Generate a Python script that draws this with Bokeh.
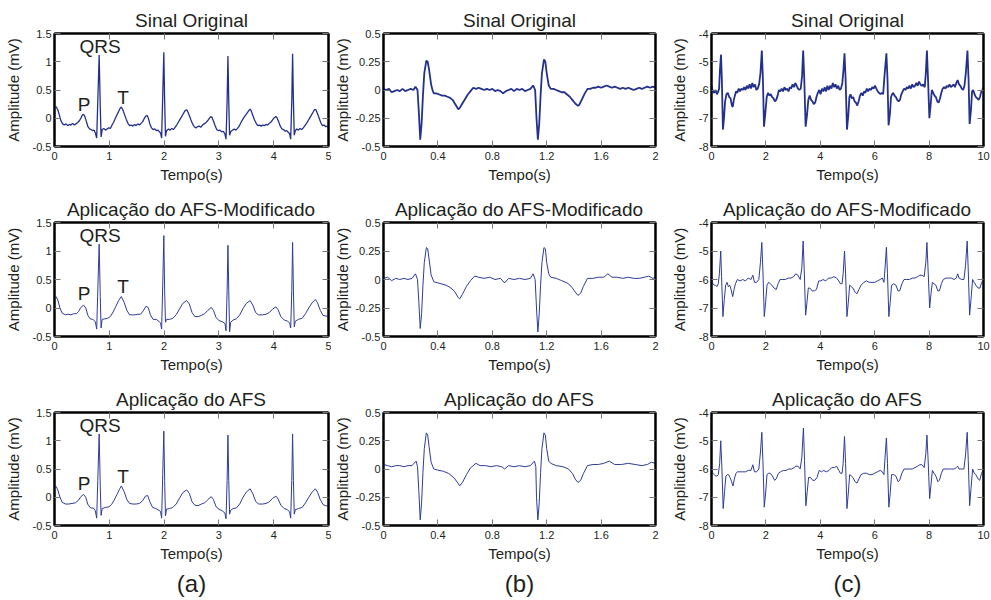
from bokeh.plotting import figure
from bokeh.layouts import column, row
from bokeh.models import LinearAxis, FixedTicker, Title, Range1d
from bokeh.embed import file_html
from bokeh.resources import INLINE
from bokeh.core.properties import value

# ---------------- data (time in s, amplitude in mV) ----------------
# column (a): 0..5 s
sinal_a_original = [
    (0.00, 0.19), (0.03, 0.20), (0.06, 0.15), (0.09, 0.05), (0.12, -0.05), (0.15, -0.10),
    (0.18, -0.12), (0.21, -0.10), (0.24, -0.13), (0.27, -0.11), (0.30, -0.12), (0.33, -0.09),
    (0.36, -0.12), (0.39, -0.10), (0.42, -0.08), (0.45, -0.05), (0.48, 0.00), (0.51, 0.06),
    (0.53, 0.07), (0.55, 0.04), (0.58, -0.05), (0.61, -0.15), (0.64, -0.19), (0.67, -0.20),
    (0.70, -0.22), (0.725, -0.21), (0.745, -0.26), (0.77, -0.35), (0.79, 0.30), (0.815, 1.12),
    (0.835, 0.20), (0.85, -0.33), (0.87, -0.20), (0.90, -0.18), (0.93, -0.21), (0.96, -0.19),
    (0.99, -0.17), (1.02, -0.18), (1.05, -0.12), (1.08, -0.07), (1.11, 0.00), (1.14, 0.06),
    (1.17, 0.12), (1.20, 0.18), (1.22, 0.20), (1.25, 0.14), (1.28, 0.06), (1.31, -0.02),
    (1.34, -0.09), (1.37, -0.13), (1.40, -0.12), (1.43, -0.14), (1.46, -0.11), (1.49, -0.13),
    (1.52, -0.10), (1.55, -0.12), (1.58, -0.09), (1.61, -0.06), (1.64, 0.00), (1.67, 0.04),
    (1.69, 0.05), (1.71, 0.01), (1.74, -0.10), (1.77, -0.17), (1.80, -0.20), (1.83, -0.19),
    (1.86, -0.22), (1.89, -0.21), (1.915, -0.24), (1.935, -0.26), (1.955, -0.35), (1.975, 0.40),
    (1.995, 1.17), (2.01, 0.30), (2.025, -0.32), (2.045, -0.22), (2.08, -0.19), (2.11, -0.21),
    (2.14, -0.18), (2.17, -0.20), (2.20, -0.16), (2.23, -0.12), (2.26, -0.07), (2.29, -0.02),
    (2.32, 0.03), (2.35, 0.08), (2.38, 0.13), (2.41, 0.15), (2.43, 0.12), (2.46, 0.05),
    (2.49, -0.03), (2.52, -0.10), (2.55, -0.15), (2.58, -0.17), (2.61, -0.15), (2.64, -0.14),
    (2.67, -0.16), (2.70, -0.12), (2.73, -0.10), (2.76, -0.08), (2.79, -0.05), (2.82, -0.01),
    (2.85, 0.03), (2.87, 0.02), (2.90, -0.05), (2.93, -0.13), (2.96, -0.20), (2.99, -0.22),
    (3.02, -0.21), (3.05, -0.24), (3.08, -0.23), (3.11, -0.28), (3.13, -0.37), (3.15, 0.30),
    (3.165, 1.10), (3.18, 0.30), (3.195, -0.30), (3.215, -0.24), (3.25, -0.21), (3.28, -0.19),
    (3.31, -0.21), (3.34, -0.18), (3.37, -0.14), (3.40, -0.08), (3.43, -0.03), (3.46, 0.02),
    (3.49, 0.06), (3.52, 0.10), (3.55, 0.14), (3.57, 0.16), (3.59, 0.13), (3.62, 0.05),
    (3.65, -0.03), (3.68, -0.09), (3.71, -0.13), (3.74, -0.12), (3.77, -0.14), (3.80, -0.12),
    (3.83, -0.13), (3.86, -0.11), (3.89, -0.12), (3.92, -0.09), (3.95, -0.07), (3.98, -0.03),
    (4.01, 0.01), (4.04, 0.03), (4.06, 0.01), (4.09, -0.06), (4.12, -0.14), (4.15, -0.19),
    (4.18, -0.20), (4.21, -0.23), (4.24, -0.22), (4.265, -0.25), (4.29, -0.27), (4.31, -0.37),
    (4.33, 0.30), (4.345, 1.14), (4.36, 0.30), (4.375, -0.30), (4.395, -0.22), (4.42, -0.19),
    (4.45, -0.21), (4.48, -0.18), (4.51, -0.20), (4.54, -0.17), (4.57, -0.13), (4.60, -0.09),
    (4.63, -0.04), (4.66, 0.01), (4.69, 0.06), (4.72, 0.11), (4.75, 0.16), (4.77, 0.15),
    (4.80, 0.08), (4.83, 0.00), (4.86, -0.08), (4.89, -0.13), (4.92, -0.12), (4.95, -0.15),
    (4.98, -0.14), (5.00, -0.17),
]
sinal_a_afs_mod = [
    (0.00, 0.18), (0.03, 0.20), (0.06, 0.14), (0.10, 0.00), (0.14, -0.09), (0.20, -0.12),
    (0.25, -0.11), (0.30, -0.12), (0.35, -0.10), (0.40, -0.10), (0.44, -0.06), (0.48, 0.01),
    (0.53, 0.05), (0.57, 0.00), (0.61, -0.13), (0.65, -0.19), (0.70, -0.20), (0.745, -0.24),
    (0.77, -0.37), (0.79, 0.30), (0.815, 1.12), (0.835, 0.20), (0.85, -0.35), (0.87, -0.20),
    (0.92, -0.19), (0.97, -0.18), (1.02, -0.15), (1.07, -0.07), (1.12, 0.03), (1.17, 0.13),
    (1.22, 0.20), (1.27, 0.10), (1.32, -0.04), (1.37, -0.12), (1.42, -0.12), (1.47, -0.12),
    (1.52, -0.11), (1.57, -0.11), (1.62, -0.05), (1.67, 0.03), (1.71, 0.01), (1.75, -0.12),
    (1.80, -0.20), (1.86, -0.20), (1.935, -0.26), (1.955, -0.37), (1.975, 0.40), (1.995, 1.27),
    (2.01, 0.30), (2.025, -0.25), (2.045, -0.20), (2.10, -0.20), (2.16, -0.18), (2.22, -0.12),
    (2.28, -0.02), (2.34, 0.08), (2.41, 0.13), (2.46, 0.07), (2.51, -0.08), (2.56, -0.15),
    (2.62, -0.15), (2.68, -0.13), (2.74, -0.10), (2.80, -0.04), (2.86, 0.01), (2.90, -0.04),
    (2.95, -0.17), (3.00, -0.22), (3.06, -0.24), (3.11, -0.27), (3.13, -0.40), (3.15, 0.30),
    (3.165, 1.10), (3.18, 0.30), (3.195, -0.42), (3.215, -0.25), (3.26, -0.21), (3.32, -0.19),
    (3.38, -0.12), (3.44, -0.01), (3.50, 0.08), (3.57, 0.13), (3.62, 0.05), (3.67, -0.08),
    (3.72, -0.12), (3.80, -0.12), (3.86, -0.11), (3.92, -0.08), (3.98, -0.02), (4.04, 0.02),
    (4.08, -0.03), (4.13, -0.15), (4.19, -0.21), (4.25, -0.23), (4.29, -0.26), (4.31, -0.35),
    (4.33, 0.30), (4.345, 1.15), (4.36, 0.30), (4.375, -0.33), (4.395, -0.23), (4.45, -0.20),
    (4.52, -0.18), (4.58, -0.10), (4.64, 0.00), (4.70, 0.09), (4.76, 0.15), (4.80, 0.09),
    (4.85, -0.04), (4.90, -0.13), (4.95, -0.14), (5.00, -0.15),
]
sinal_a_afs = [
    (0.00, 0.17), (0.03, 0.19), (0.06, 0.13), (0.10, 0.00), (0.14, -0.09), (0.20, -0.12),
    (0.26, -0.12), (0.32, -0.11), (0.38, -0.10), (0.44, -0.05), (0.48, 0.01), (0.53, 0.05),
    (0.57, 0.00), (0.61, -0.13), (0.66, -0.19), (0.71, -0.19), (0.745, -0.24), (0.77, -0.37),
    (0.79, 0.30), (0.815, 1.12), (0.835, 0.20), (0.85, -0.32), (0.87, -0.20), (0.93, -0.18),
    (0.99, -0.17), (1.04, -0.13), (1.09, -0.05), (1.14, 0.05), (1.18, 0.13), (1.22, 0.20),
    (1.27, 0.10), (1.32, -0.04), (1.37, -0.11), (1.43, -0.12), (1.49, -0.12), (1.55, -0.11),
    (1.61, -0.06), (1.66, 0.02), (1.70, 0.03), (1.74, -0.08), (1.79, -0.18), (1.85, -0.20),
    (1.935, -0.25), (1.955, -0.37), (1.975, 0.40), (1.995, 1.17), (2.01, 0.30), (2.025, -0.33),
    (2.045, -0.21), (2.10, -0.20), (2.16, -0.18), (2.22, -0.12), (2.28, -0.02), (2.34, 0.08),
    (2.41, 0.13), (2.46, 0.07), (2.51, -0.08), (2.56, -0.14), (2.62, -0.15), (2.68, -0.12),
    (2.74, -0.10), (2.80, -0.04), (2.86, 0.01), (2.90, -0.04), (2.95, -0.17), (3.00, -0.21),
    (3.06, -0.24), (3.11, -0.28), (3.13, -0.38), (3.15, 0.30), (3.165, 1.10), (3.18, 0.30),
    (3.195, -0.30), (3.215, -0.23), (3.26, -0.20), (3.32, -0.19), (3.38, -0.12), (3.44, 0.00),
    (3.50, 0.09), (3.57, 0.15), (3.62, 0.06), (3.67, -0.07), (3.72, -0.12), (3.80, -0.12),
    (3.86, -0.11), (3.92, -0.08), (3.98, -0.02), (4.04, 0.02), (4.08, -0.03), (4.13, -0.14),
    (4.19, -0.20), (4.25, -0.22), (4.29, -0.26), (4.31, -0.37), (4.33, 0.30), (4.345, 1.12),
    (4.36, 0.30), (4.375, -0.30), (4.395, -0.22), (4.45, -0.20), (4.52, -0.18), (4.58, -0.10),
    (4.64, 0.00), (4.70, 0.09), (4.76, 0.15), (4.80, 0.09), (4.85, -0.04), (4.90, -0.13),
    (4.95, -0.15), (5.00, -0.16),
]

# column (b): 0..2 s
sinal_b_original = [
    (0.00, 0.01), (0.02, 0.00), (0.04, 0.01), (0.06, -0.02), (0.08, -0.01), (0.10, 0.00),
    (0.12, -0.01), (0.14, 0.01), (0.16, -0.01), (0.18, 0.00), (0.20, 0.01), (0.22, 0.00),
    (0.235, 0.03), (0.25, 0.00), (0.26, -0.20), (0.27, -0.44), (0.28, -0.30), (0.29, -0.05),
    (0.30, 0.15), (0.315, 0.26), (0.325, 0.25), (0.335, 0.18), (0.35, 0.05), (0.36, 0.00),
    (0.37, -0.03), (0.39, -0.03), (0.41, -0.04), (0.43, -0.05), (0.45, -0.05), (0.47, -0.06),
    (0.49, -0.07), (0.51, -0.09), (0.53, -0.13), (0.55, -0.17), (0.56, -0.16), (0.58, -0.12),
    (0.60, -0.08), (0.62, -0.04), (0.64, -0.01), (0.66, 0.02), (0.68, 0.01), (0.70, 0.02),
    (0.72, 0.01), (0.74, 0.00), (0.76, 0.01), (0.78, 0.00), (0.80, 0.01), (0.82, -0.01),
    (0.84, 0.00), (0.86, -0.01), (0.88, -0.03), (0.90, -0.01), (0.92, 0.00), (0.94, 0.01),
    (0.96, -0.01), (0.98, 0.01), (1.00, 0.00), (1.02, 0.01), (1.04, -0.01), (1.06, 0.00),
    (1.08, 0.01), (1.10, 0.04), (1.115, 0.00), (1.125, -0.25), (1.135, -0.44), (1.145, -0.30),
    (1.155, -0.05), (1.165, 0.15), (1.18, 0.27), (1.19, 0.25), (1.20, 0.15), (1.215, 0.04),
    (1.23, 0.01), (1.25, 0.01), (1.27, 0.00), (1.29, -0.01), (1.31, -0.02), (1.33, -0.02),
    (1.35, -0.04), (1.37, -0.06), (1.39, -0.09), (1.41, -0.12), (1.43, -0.14), (1.44, -0.13),
    (1.46, -0.08), (1.48, -0.03), (1.50, 0.01), (1.52, 0.01), (1.54, 0.02), (1.56, 0.02),
    (1.58, 0.03), (1.60, 0.02), (1.62, 0.03), (1.64, 0.04), (1.66, 0.03), (1.68, 0.02),
    (1.70, 0.03), (1.72, 0.02), (1.74, 0.01), (1.76, 0.02), (1.78, 0.01), (1.80, 0.02),
    (1.82, 0.01), (1.84, 0.00), (1.86, 0.01), (1.88, 0.02), (1.90, 0.01), (1.92, 0.02),
    (1.94, 0.03), (1.96, 0.02), (1.98, 0.03), (2.00, 0.02),
]
sinal_b_afs_mod = [
    (0.00, 0.01), (0.03, 0.02), (0.06, -0.01), (0.09, 0.01), (0.12, 0.00), (0.15, 0.01),
    (0.18, 0.00), (0.21, 0.01), (0.235, 0.05), (0.25, 0.00), (0.26, -0.20), (0.27, -0.43),
    (0.28, -0.30), (0.29, -0.05), (0.30, 0.15), (0.315, 0.28), (0.325, 0.27), (0.335, 0.18),
    (0.35, 0.04), (0.37, -0.02), (0.40, -0.03), (0.43, -0.04), (0.46, -0.05), (0.49, -0.07),
    (0.52, -0.10), (0.55, -0.16), (0.56, -0.17), (0.58, -0.13), (0.61, -0.06), (0.64, -0.01),
    (0.67, 0.03), (0.70, 0.02), (0.74, 0.01), (0.78, 0.02), (0.82, 0.00), (0.86, 0.01),
    (0.89, -0.03), (0.92, 0.01), (0.96, 0.00), (1.00, 0.01), (1.04, 0.00), (1.08, 0.01),
    (1.10, 0.05), (1.115, 0.00), (1.125, -0.25), (1.135, -0.46), (1.145, -0.30), (1.155, -0.05),
    (1.165, 0.15), (1.18, 0.28), (1.19, 0.27), (1.20, 0.15), (1.215, 0.05), (1.23, 0.02),
    (1.27, 0.01), (1.31, -0.01), (1.35, -0.03), (1.38, -0.06), (1.41, -0.11), (1.43, -0.14),
    (1.45, -0.12), (1.47, -0.06), (1.50, 0.01), (1.54, 0.01), (1.58, 0.02), (1.62, 0.02),
    (1.65, 0.05), (1.68, 0.02), (1.72, 0.02), (1.76, 0.01), (1.80, 0.02), (1.84, 0.01),
    (1.88, 0.01), (1.92, 0.02), (1.95, 0.03), (1.98, 0.01), (2.00, 0.02),
]
sinal_b_afs = [
    (0.00, 0.04), (0.03, 0.03), (0.06, 0.02), (0.09, 0.03), (0.12, 0.03), (0.15, 0.02),
    (0.18, 0.03), (0.21, 0.03), (0.24, 0.07), (0.25, 0.02), (0.26, -0.20), (0.27, -0.45),
    (0.28, -0.30), (0.29, -0.03), (0.30, 0.18), (0.315, 0.32), (0.325, 0.30), (0.335, 0.20),
    (0.35, 0.06), (0.37, 0.00), (0.40, -0.01), (0.44, -0.02), (0.48, -0.04), (0.52, -0.08),
    (0.55, -0.13), (0.56, -0.15), (0.58, -0.12), (0.61, -0.05), (0.64, 0.01), (0.68, 0.05),
    (0.71, 0.03), (0.75, 0.03), (0.79, 0.02), (0.83, 0.03), (0.87, 0.02), (0.89, 0.00),
    (0.92, 0.03), (0.96, 0.02), (1.00, 0.03), (1.04, 0.02), (1.08, 0.03), (1.11, 0.07),
    (1.12, 0.02), (1.125, -0.25), (1.135, -0.45), (1.145, -0.30), (1.155, -0.03), (1.165, 0.18),
    (1.18, 0.32), (1.19, 0.30), (1.20, 0.18), (1.215, 0.07), (1.23, 0.05), (1.27, 0.03),
    (1.32, 0.02), (1.36, 0.00), (1.39, -0.04), (1.41, -0.09), (1.43, -0.12), (1.45, -0.10),
    (1.47, -0.04), (1.50, 0.03), (1.54, 0.04), (1.58, 0.04), (1.62, 0.05), (1.66, 0.07),
    (1.70, 0.04), (1.75, 0.04), (1.80, 0.05), (1.85, 0.04), (1.90, 0.03), (1.94, 0.04),
    (1.97, 0.06), (2.00, 0.05),
]

# column (c): 0..10 s
sinal_c_original = [
    (0.00, -5.85), (0.05, -6.05), (0.10, -6.10), (0.15, -6.00), (0.20, -6.15), (0.25, -6.05),
    (0.28, -5.95), (0.31, -5.30), (0.35, -4.75), (0.38, -5.60), (0.42, -7.40), (0.46, -7.00),
    (0.50, -6.40), (0.55, -6.15), (0.60, -6.10), (0.65, -6.25), (0.70, -6.30), (0.75, -6.55),
    (0.78, -6.60), (0.82, -6.35), (0.86, -6.20), (0.90, -6.05), (0.95, -6.10), (1.00, -5.95),
    (1.05, -6.05), (1.10, -5.95), (1.15, -6.00), (1.20, -5.90), (1.25, -6.00), (1.30, -5.85),
    (1.35, -5.95), (1.40, -5.80), (1.45, -5.95), (1.50, -5.75), (1.55, -5.90), (1.60, -5.80),
    (1.65, -6.00), (1.70, -5.95), (1.75, -5.80), (1.80, -5.40), (1.85, -4.60), (1.89, -5.60),
    (1.93, -7.30), (1.98, -6.80), (2.03, -6.25), (2.08, -6.10), (2.13, -6.20), (2.18, -6.15),
    (2.23, -6.25), (2.28, -6.30), (2.33, -6.40), (2.38, -6.35), (2.43, -6.20), (2.48, -6.00),
    (2.53, -6.05), (2.58, -5.95), (2.63, -6.05), (2.68, -5.90), (2.73, -6.00), (2.78, -5.95),
    (2.83, -6.05), (2.88, -5.90), (2.93, -5.95), (2.98, -5.80), (3.03, -5.90), (3.08, -5.75),
    (3.13, -5.85), (3.18, -5.95), (3.23, -6.00), (3.28, -5.95), (3.33, -5.50), (3.37, -4.60),
    (3.41, -5.60), (3.46, -7.30), (3.51, -6.90), (3.56, -6.35), (3.61, -6.20), (3.66, -6.35),
    (3.71, -6.40), (3.76, -6.50), (3.81, -6.45), (3.86, -6.25), (3.91, -6.10), (3.96, -6.00),
    (4.01, -6.15), (4.06, -5.95), (4.11, -6.05), (4.16, -5.90), (4.21, -6.05), (4.26, -5.85),
    (4.31, -6.00), (4.36, -5.85), (4.41, -5.95), (4.46, -5.75), (4.51, -5.90), (4.56, -5.80),
    (4.61, -5.95), (4.66, -5.85), (4.71, -6.00), (4.76, -5.95), (4.81, -5.75), (4.85, -5.30),
    (4.89, -4.70), (4.93, -5.60), (4.98, -7.40), (5.03, -6.90), (5.07, -6.25), (5.11, -6.15),
    (5.16, -6.30), (5.21, -6.25), (5.26, -6.40), (5.31, -6.45), (5.36, -6.55), (5.41, -6.40),
    (5.46, -6.20), (5.51, -6.10), (5.56, -6.20), (5.61, -6.05), (5.66, -6.10), (5.71, -5.95),
    (5.76, -6.05), (5.81, -5.95), (5.86, -6.00), (5.91, -5.90), (5.96, -5.95), (6.01, -5.85),
    (6.06, -5.95), (6.11, -6.05), (6.16, -6.10), (6.21, -6.15), (6.26, -6.10), (6.31, -6.15),
    (6.36, -5.50), (6.43, -4.70), (6.47, -5.60), (6.51, -7.25), (6.56, -6.85), (6.60, -6.25),
    (6.64, -6.15), (6.68, -6.10), (6.73, -6.20), (6.78, -6.25), (6.83, -6.35), (6.88, -6.40),
    (6.93, -6.35), (6.98, -6.15), (7.03, -6.05), (7.08, -5.95), (7.13, -6.00), (7.18, -5.90),
    (7.23, -5.95), (7.28, -5.85), (7.33, -5.95), (7.38, -5.80), (7.43, -5.90), (7.48, -5.85),
    (7.53, -5.75), (7.58, -5.85), (7.63, -5.70), (7.68, -5.80), (7.73, -5.85), (7.78, -5.80),
    (7.84, -5.90), (7.88, -5.40), (7.92, -4.60), (7.96, -5.60), (8.01, -7.00), (8.06, -6.50),
    (8.10, -6.00), (8.15, -6.10), (8.20, -6.20), (8.25, -6.25), (8.30, -6.40), (8.35, -6.45),
    (8.40, -6.30), (8.45, -6.10), (8.50, -5.95), (8.55, -5.90), (8.60, -5.95), (8.65, -5.85),
    (8.70, -5.90), (8.75, -5.80), (8.80, -5.90), (8.85, -5.85), (8.90, -5.80), (8.95, -5.90),
    (9.00, -5.75), (9.05, -5.65), (9.10, -5.80), (9.15, -5.85), (9.20, -5.95), (9.25, -6.00),
    (9.30, -5.85), (9.35, -5.40), (9.41, -4.60), (9.45, -5.60), (9.49, -7.20), (9.54, -6.70),
    (9.58, -6.05), (9.62, -6.00), (9.67, -6.15), (9.72, -6.25), (9.77, -6.30), (9.82, -6.35),
    (9.87, -6.25), (9.92, -6.05), (9.96, -6.00), (10.00, -5.90),
]
sinal_c_afs_mod = [
    (0.00, -5.85), (0.05, -6.15), (0.10, -6.20), (0.15, -6.20), (0.20, -6.25), (0.25, -6.15),
    (0.29, -5.80), (0.34, -5.00), (0.37, -5.90), (0.42, -7.30), (0.47, -6.70), (0.52, -6.20),
    (0.57, -6.10), (0.62, -6.25), (0.67, -6.20), (0.72, -6.35), (0.78, -6.60), (0.83, -6.35),
    (0.88, -6.15), (0.95, -6.00), (1.05, -6.05), (1.15, -6.00), (1.25, -6.05), (1.35, -5.95),
    (1.45, -6.00), (1.52, -5.85), (1.58, -6.10), (1.66, -6.10), (1.74, -6.00), (1.80, -5.40),
    (1.85, -4.70), (1.89, -5.70), (1.94, -7.30), (1.99, -6.80), (2.04, -6.20), (2.10, -6.10),
    (2.16, -6.15), (2.22, -6.20), (2.30, -6.30), (2.38, -6.35), (2.45, -6.15), (2.52, -6.00),
    (2.62, -6.00), (2.72, -6.00), (2.82, -5.95), (2.92, -5.95), (3.02, -5.90), (3.10, -5.80),
    (3.18, -5.85), (3.26, -6.00), (3.32, -5.60), (3.37, -4.65), (3.41, -5.70), (3.46, -7.25),
    (3.51, -6.80), (3.56, -6.30), (3.62, -6.30), (3.70, -6.40), (3.78, -6.40), (3.86, -6.35),
    (3.94, -6.05), (4.02, -6.05), (4.10, -6.00), (4.20, -6.05), (4.30, -5.95), (4.40, -5.95),
    (4.50, -5.90), (4.60, -5.95), (4.68, -6.05), (4.74, -6.15), (4.80, -6.15), (4.84, -5.80),
    (4.89, -5.00), (4.93, -5.80), (4.98, -7.30), (5.03, -6.80), (5.08, -6.20), (5.14, -6.25),
    (5.20, -6.30), (5.28, -6.45), (5.35, -6.50), (5.42, -6.35), (5.50, -6.20), (5.60, -6.10),
    (5.70, -6.05), (5.80, -6.10), (5.90, -6.10), (6.00, -6.10), (6.10, -6.05), (6.20, -6.00),
    (6.28, -5.95), (6.34, -6.10), (6.38, -5.60), (6.43, -4.87), (6.47, -5.80), (6.52, -7.30),
    (6.57, -6.80), (6.62, -6.20), (6.70, -6.15), (6.78, -6.20), (6.86, -6.40), (6.92, -6.40),
    (7.00, -6.15), (7.08, -6.00), (7.18, -6.00), (7.28, -6.00), (7.38, -5.95), (7.48, -5.95),
    (7.58, -5.90), (7.66, -5.85), (7.74, -5.85), (7.82, -5.90), (7.88, -5.40), (7.92, -4.70),
    (7.96, -5.60), (8.02, -7.00), (8.07, -6.50), (8.12, -6.10), (8.18, -6.15), (8.25, -6.20),
    (8.32, -6.40), (8.38, -6.40), (8.45, -6.15), (8.52, -6.00), (8.62, -5.95), (8.72, -5.95),
    (8.82, -5.95), (8.92, -6.00), (9.00, -5.95), (9.05, -5.80), (9.10, -5.95), (9.20, -6.00),
    (9.28, -6.00), (9.34, -5.50), (9.40, -4.65), (9.44, -5.70), (9.49, -7.25), (9.54, -6.70),
    (9.60, -6.00), (9.66, -6.10), (9.72, -6.20), (9.80, -6.30), (9.87, -6.30), (9.93, -6.10),
    (10.00, -6.00),
]
sinal_c_afs = [
    (0.00, -5.95), (0.05, -6.15), (0.10, -6.20), (0.15, -6.25), (0.20, -6.25), (0.25, -6.20),
    (0.30, -5.80), (0.34, -5.00), (0.38, -5.90), (0.43, -7.40), (0.48, -6.80), (0.53, -6.25),
    (0.58, -6.20), (0.63, -6.20), (0.68, -6.30), (0.74, -6.45), (0.79, -6.60), (0.84, -6.35),
    (0.90, -6.15), (0.96, -6.10), (1.05, -6.10), (1.15, -6.10), (1.25, -6.10), (1.35, -6.05),
    (1.45, -6.05), (1.52, -5.85), (1.58, -6.10), (1.66, -6.10), (1.74, -6.00), (1.80, -5.40),
    (1.85, -4.70), (1.89, -5.70), (1.94, -7.35), (1.99, -6.85), (2.04, -6.20), (2.10, -6.15),
    (2.16, -6.15), (2.24, -6.25), (2.32, -6.40), (2.38, -6.35), (2.46, -6.15), (2.54, -6.10),
    (2.64, -6.05), (2.74, -6.05), (2.84, -6.00), (2.94, -6.00), (3.04, -5.95), (3.10, -5.90),
    (3.18, -5.90), (3.26, -6.00), (3.32, -5.60), (3.38, -4.55), (3.42, -5.70), (3.47, -7.30),
    (3.52, -6.80), (3.57, -6.30), (3.64, -6.30), (3.72, -6.40), (3.80, -6.40), (3.88, -6.30),
    (3.96, -6.05), (4.04, -6.10), (4.12, -6.05), (4.22, -6.10), (4.32, -6.05), (4.42, -5.95),
    (4.52, -5.95), (4.60, -5.90), (4.68, -6.05), (4.74, -6.15), (4.80, -6.15), (4.84, -5.80),
    (4.89, -4.85), (4.93, -5.80), (4.98, -7.40), (5.03, -6.85), (5.08, -6.20), (5.14, -6.25),
    (5.20, -6.30), (5.28, -6.45), (5.35, -6.50), (5.42, -6.35), (5.50, -6.20), (5.60, -6.15),
    (5.70, -6.15), (5.80, -6.20), (5.90, -6.20), (6.00, -6.15), (6.10, -6.10), (6.20, -6.05),
    (6.28, -6.10), (6.34, -6.20), (6.38, -5.60), (6.43, -4.90), (6.47, -5.80), (6.52, -7.35),
    (6.57, -6.85), (6.62, -6.20), (6.70, -6.20), (6.78, -6.25), (6.86, -6.45), (6.92, -6.40),
    (7.00, -6.15), (7.08, -6.00), (7.18, -6.00), (7.28, -6.00), (7.38, -6.00), (7.48, -5.95),
    (7.58, -5.90), (7.66, -5.85), (7.74, -5.85), (7.82, -5.95), (7.88, -5.45), (7.92, -4.80),
    (7.96, -5.60), (8.02, -7.05), (8.07, -6.55), (8.12, -6.05), (8.18, -6.15), (8.25, -6.25),
    (8.32, -6.45), (8.38, -6.40), (8.45, -6.15), (8.52, -6.00), (8.62, -6.00), (8.72, -6.00),
    (8.82, -6.00), (8.92, -6.00), (9.00, -5.95), (9.05, -5.90), (9.10, -6.00), (9.20, -6.00),
    (9.28, -6.00), (9.34, -5.50), (9.40, -4.70), (9.44, -5.70), (9.49, -7.30), (9.54, -6.70),
    (9.60, -6.00), (9.66, -6.15), (9.72, -6.20), (9.80, -6.35), (9.86, -6.40), (9.93, -6.15),
    (10.00, -6.00),
]

# axes ticks / labels
xticks_a = [0, 1, 2, 3, 4, 5]
xlabels_a = ["0", "1", "2", "3", "4", "5"]
yticks_a = [-0.5, 0, 0.5, 1, 1.5]
ylabels_a = ["-0.5", "0", "0.5", "1", "1.5"]
xticks_b = [0, 0.4, 0.8, 1.2, 1.6, 2]
xlabels_b = ["0", "0.4", "0.8", "1.2", "1.6", "2"]
yticks_b = [-0.5, -0.25, 0, 0.25, 0.5]
ylabels_b = ["-0.5", "-0.25", "0", "0.25", "0.5"]
xticks_c = [0, 2, 4, 6, 8, 10]
xlabels_c = ["0", "2", "4", "6", "8", "10"]
yticks_c = [-8, -7, -6, -5, -4]
ylabels_c = ["-8", "-7", "-6", "-5", "-4"]

titles = ["Sinal Original", "Aplicação do AFS-Modificado", "Aplicação do AFS"]
panel_letters = ["(a)", "(b)", "(c)"]
wave_names = ["QRS", "P", "T"]
wave_t = [0.83, 0.54, 1.25]
wave_v = [1.27, 0.25, 0.37]

# ---------------- styling / layout ----------------
FONT = "Liberation Sans"
TXT = "#231f20"

columns = [
    dict(xr=(0, 5), yr=(-0.5, 1.5), xt=xticks_a, xl=xlabels_a, yt=yticks_a, yl=ylabels_a,
         width=331, mbl=54, mbr=3, ylab_standoff=8, lw_top=1.3),
    dict(xr=(0, 2), yr=(-0.5, 0.5), xt=xticks_b, xl=xlabels_b, yt=yticks_b, yl=ylabels_b,
         width=332, mbl=51, mbr=8, ylab_standoff=1, lw_top=1.8),
    dict(xr=(0, 10), yr=(-8, -4), xt=xticks_c, xl=xlabels_c, yt=yticks_c, yl=ylabels_c,
         width=328, mbl=48, mbr=8, ylab_standoff=8, lw_top=1.8),
]
rows_cfg = [
    dict(height=185, mbt=33, mbb=38, lw=None, color="#24318c"),
    dict(height=190, mbt=37, mbb=39, lw=1.0, color="#2f3c98"),
    dict(height=225, mbt=37, mbb=75, lw=1.0, color="#2f3c98"),
]
signals = [
    [sinal_a_original, sinal_b_original, sinal_c_original],
    [sinal_a_afs_mod, sinal_b_afs_mod, sinal_c_afs_mod],
    [sinal_a_afs, sinal_b_afs, sinal_c_afs],
]


def style_axis(ax, ticks, labels, show, standoff):
    ax.ticker = FixedTicker(ticks=ticks)
    ax.minor_tick_line_color = None
    ax.major_tick_in = 6
    ax.major_tick_out = 0
    ax.major_tick_line_color = "#777777"
    ax.major_tick_line_width = 1
    ax.axis_line_color = "black"
    ax.axis_line_width = 2
    ax.major_label_text_font = FONT
    if show:
        ax.major_label_overrides = {t: l for t, l in zip(ticks, labels)}
        ax.major_label_text_color = TXT
        ax.major_label_text_font_size = "11px"
        ax.major_label_standoff = standoff
    else:
        ax.major_label_text_color = None
        ax.major_label_text_font_size = "1px"
        ax.major_label_standoff = 0


def make_panel(ri, ci):
    col = columns[ci]
    rc = rows_cfg[ri]
    pairs = signals[ri][ci]
    t = [a for a, b in pairs]
    v = [b for a, b in pairs]
    p = figure(width=col["width"], height=rc["height"],
               x_range=Range1d(*col["xr"]), y_range=Range1d(*col["yr"]),
               output_backend="svg", toolbar_location=None,
               min_border_left=col["mbl"], min_border_right=col["mbr"],
               min_border_top=rc["mbt"], min_border_bottom=rc["mbb"],
               background_fill_color="white", border_fill_color="white")
    p.grid.visible = False
    p.outline_line_color = "black"
    p.outline_line_width = 2

    p.title.text = titles[ri]
    p.title.align = "center"
    p.title.text_font = FONT
    p.title.text_font_size = "19px"
    p.title.text_font_style = "normal"
    p.title.text_color = TXT
    p.title.standoff = 5

    lw = rc["lw"] if rc["lw"] is not None else col["lw_top"]
    p.line(t, v, line_color=rc["color"], line_width=lw)

    xb = p.below[0]
    yl = p.left[0]
    xa = LinearAxis()
    yr = LinearAxis()
    p.add_layout(xa, "above")
    p.add_layout(yr, "right")
    style_axis(xb, col["xt"], col["xl"], True, 5)
    style_axis(xa, col["xt"], col["xl"], False, 0)
    style_axis(yl, col["yt"], col["yl"], True, 3)
    style_axis(yr, col["yt"], col["yl"], False, 0)
    for ax, lab, so in ((xb, "Tempo(s)", 3), (yl, "Amplitude (mV)", col["ylab_standoff"])):
        ax.axis_label = lab
        ax.axis_label_text_font = FONT
        ax.axis_label_text_font_size = "15px"
        ax.axis_label_text_font_style = "normal"
        ax.axis_label_text_color = TXT
        ax.axis_label_standoff = so

    if ci == 0:
        p.text(x=wave_t, y=wave_v, text=wave_names, text_font=value(FONT),
               text_font_size="19px", text_align="center", text_baseline="middle",
               text_color=TXT)

    if ri == 2:
        lt = Title(text=panel_letters[ci], align="center", text_font=FONT,
                   text_font_size="24px", text_font_style="normal", text_color=TXT,
                   standoff=7)
        p.add_layout(lt, "below")
    return p


grid = column(
    *[row(*[make_panel(ri, ci) for ci in range(3)], spacing=0) for ri in range(3)],
    spacing=0,
)

open("out.html", "w").write(file_html(grid, INLINE))
